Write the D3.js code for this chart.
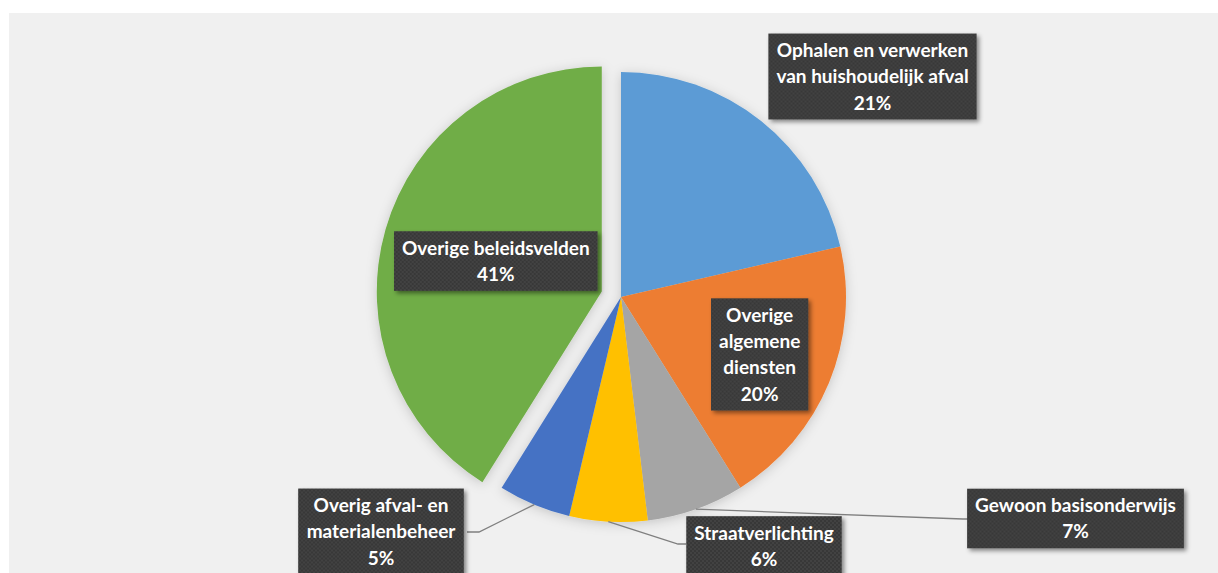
<!DOCTYPE html>
<html>
<head>
<meta charset="utf-8">
<script src="https://cdn.jsdelivr.net/npm/d3@7"></script>
<style>
  html, body { margin: 0; padding: 0; background: #ffffff; }
  svg { display: block; }
  text { font-family: Lato, "Open Sans", sans-serif; font-weight: 700; }
</style>
</head>
<body>
<svg id="chart" width="1218" height="573"></svg>
<script>
// ---- data ----
const categories = [
  "Ophalen en verwerken van huishoudelijk afval",
  "Overige algemene diensten",
  "Gewoon basisonderwijs",
  "Straatverlichting",
  "Overig afval- en materialenbeheer",
  "Overige beleidsvelden"
];
const values = [21.4, 19.7, 7.0, 5.6, 5.2, 41.1];
const labelLines = [
  ["Ophalen en verwerken", "van huishoudelijk afval"],
  ["Overige", "algemene", "diensten"],
  ["Gewoon basisonderwijs"],
  ["Straatverlichting"],
  ["Overig afval- en", "materialenbeheer"],
  ["Overige beleidsvelden"]
];
const colors = ["#5b9bd5", "#ed7d31", "#a5a5a5", "#ffc000", "#4472c4", "#70ad47"];
const explode = [0, 0, 0, 0, 0, 20];

// ---- layout ----
const W = 1218, H = 573;
const cx = 621, cy = 297, R = 225;
const labelLayout = [
  { type: "out", x: 872.5, y: 76.5 },
  { type: "in", r: 0.667 },
  { type: "out", x: 1075.5, y: 518.5, elbow: [963, 519], side: "left" },
  { type: "out", x: 764, y: 546, elbow: [678, 544], side: "left" },
  { type: "out", x: 381, y: 531.5, elbow: [479, 532], side: "right" },
  { type: "in", r: 0.49 }
];

const svg = d3.select("#chart");
const defs = svg.append("defs");

const pat = defs.append("pattern").attr("id", "tex")
  .attr("patternUnits", "userSpaceOnUse").attr("width", 4).attr("height", 4);
pat.append("rect").attr("width", 4).attr("height", 4).attr("fill", "#383838");
pat.append("circle").attr("cx", 1).attr("cy", 1).attr("r", 0.9).attr("fill", "#484848");
pat.append("circle").attr("cx", 3).attr("cy", 3).attr("r", 0.9).attr("fill", "#484848");

const boxShadow = defs.append("filter").attr("id", "boxShadow")
  .attr("x", "-20%").attr("y", "-20%").attr("width", "140%").attr("height", "150%");
boxShadow.append("feDropShadow").attr("dx", 2.5).attr("dy", 2.5).attr("stdDeviation", 2)
  .attr("flood-color", "#000").attr("flood-opacity", 0.45);

const pieShadow = defs.append("filter").attr("id", "pieShadow")
  .attr("x", "-20%").attr("y", "-20%").attr("width", "140%").attr("height", "140%");
pieShadow.append("feDropShadow").attr("dx", 0).attr("dy", 2).attr("stdDeviation", 6)
  .attr("flood-color", "#000").attr("flood-opacity", 0.18);

svg.append("rect").attr("x", 9).attr("y", 13).attr("width", W - 9).attr("height", H - 13)
  .attr("fill", "#f0f0f0");

const pie = d3.pie().sort(null).value(d => d)(values);
const arc = d3.arc().innerRadius(0).outerRadius(R);
const total = d3.sum(values);

const g = svg.append("g").attr("transform", `translate(${cx},${cy})`);

const offsetOf = (d, i) => {
  const a = (d.startAngle + d.endAngle) / 2;
  return [Math.sin(a) * explode[i], -Math.cos(a) * explode[i]];
};

g.append("g").attr("filter", "url(#pieShadow)")
  .selectAll("path").data(pie).join("path")
  .attr("d", arc)
  .attr("fill", (d, i) => colors[i])
  .attr("transform", (d, i) => { const o = offsetOf(d, i); return `translate(${o[0]},${o[1]})`; });

const leaders = svg.append("g");
pie.forEach((d, i) => {
  const L = labelLayout[i];
  if (L.type !== "out" || !L.elbow) return;
  const a = (d.startAngle + d.endAngle) / 2;
  const p0 = [cx + Math.sin(a) * R, cy - Math.cos(a) * R];
  leaders.append("path")
    .attr("d", d3.line()([p0, L.elbow, [L.elbow[0] + (L.side === "left" ? 8 : -12), L.elbow[1]]]))
    .attr("fill", "none").attr("stroke", "#7f7f7f").attr("stroke-width", 1.3);
});

const fontSize = 19, lineH = 26.3, padX = 8;
const labels = svg.append("g");
pie.forEach((d, i) => {
  const L = labelLayout[i];
  let x, y;
  if (L.type === "in") {
    const a = (d.startAngle + d.endAngle) / 2;
    const o = offsetOf(d, i);
    x = cx + o[0] + Math.sin(a) * R * L.r;
    y = cy + o[1] - Math.cos(a) * R * L.r;
  } else { x = L.x; y = L.y; }
  const pct = Math.round(values[i] / total * 100) + "%";
  const lines = labelLines[i].concat([pct]);
  const grp = labels.append("g").attr("transform", `translate(${x},${y})`);
  const rect = grp.append("rect").attr("fill", "url(#tex)").attr("filter", "url(#boxShadow)");
  const h = lines.length * lineH + 7;
  const t = grp.append("text").attr("text-anchor", "middle").attr("fill", "#ffffff")
    .attr("font-size", fontSize);
  lines.forEach((ln, k) => {
    t.append("tspan").attr("x", 0)
      .attr("y", -h / 2 + 3.5 + lineH * k + lineH / 2)
      .attr("dy", "0.36em").text(ln);
  });
  const w = t.node().getBBox().width + padX * 2;
  rect.attr("x", -w / 2).attr("y", -h / 2).attr("width", w).attr("height", h);
});
</script>
</body>
</html>
